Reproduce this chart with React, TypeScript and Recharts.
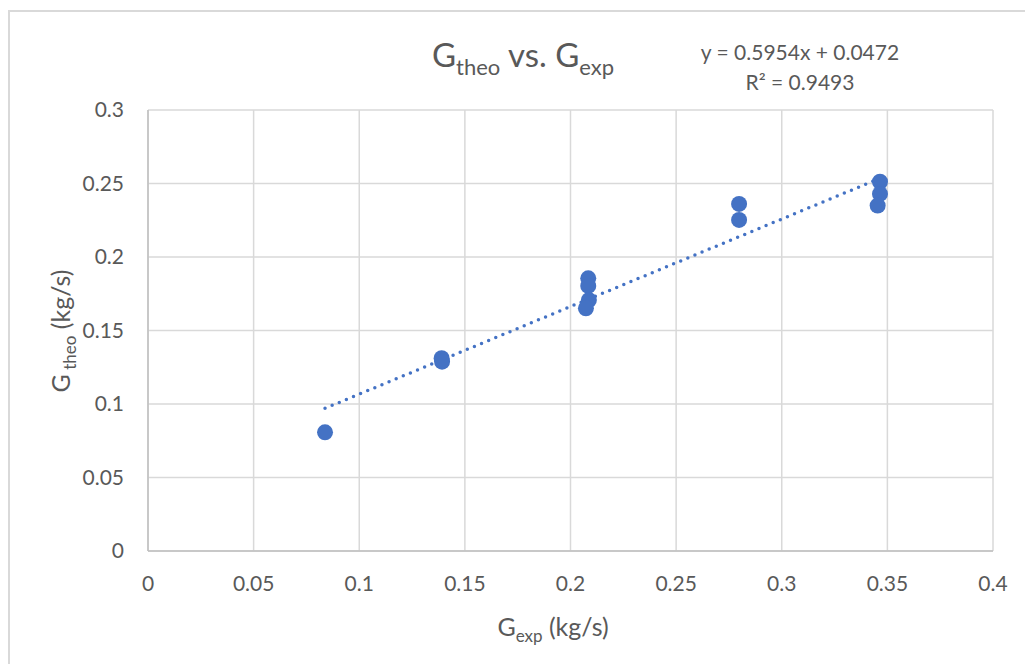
import { ScatterChart, Scatter, XAxis, YAxis, CartesianGrid } from "recharts"

const gExp = [0.0838, 0.139, 0.1392, 0.2084, 0.2084, 0.2087, 0.2073, 0.2798, 0.2798, 0.3465, 0.3465, 0.3454]
const gTheo = [0.0807, 0.1312, 0.1288, 0.1855, 0.1803, 0.1707, 0.1651, 0.2361, 0.2252, 0.2512, 0.2429, 0.235]
const xTicks = [0, 0.05, 0.1, 0.15, 0.2, 0.25, 0.3, 0.35, 0.4]
const yTicks = [0, 0.05, 0.1, 0.15, 0.2, 0.25, 0.3]
const slope = 0.5954
const intercept = 0.0472

const BLUE = "#4472C4"
const TEXT = "#595959"
const FONT = "Lato, sans-serif"

export default function App() {
  const points = gExp.map((x, i) => ({ x, y: gTheo[i] }))
  const xMin = Math.min(...gExp)
  const xMax = Math.max(...gExp)
  // linear trendline from the fitted equation
  const trend = [
    { x: xMin, y: slope * xMin + intercept },
    { x: xMax, y: slope * xMax + intercept },
  ]

  return (
    <div style={{ position: "absolute", left: 0, top: 0, width: 1025, height: 664, background: "#fff", overflow: "hidden", fontFamily: FONT }}>
      <div style={{ position: "absolute", left: 8, top: 10, width: 1100, height: 700, borderLeft: "2px solid #d9d9d9", borderTop: "2px solid #d9d9d9" }} />

      <ScatterChart width={1025} height={664} margin={{ top: 110, right: 32, bottom: 73, left: 88 }}>
        <CartesianGrid stroke="#d9d9d9" strokeWidth={1.5} />
        <XAxis
          type="number"
          dataKey="x"
          domain={[0, 0.4]}
          ticks={xTicks}
          height={40}
          tickLine={false}
          tickMargin={19}
          stroke="#bfbfbf"
          strokeWidth={1.5}
          tick={{ fill: TEXT, fontSize: 21, fontFamily: FONT }}
        />
        <YAxis
          type="number"
          dataKey="y"
          domain={[0, 0.3]}
          ticks={yTicks}
          width={60}
          tickLine={false}
          tickMargin={18}
          stroke="#bfbfbf"
          strokeWidth={1.5}
          tick={{ fill: TEXT, fontSize: 21, fontFamily: FONT }}
        />
        <Scatter
          data={trend}
          isAnimationActive={false}
          line={{ stroke: BLUE, strokeWidth: 3.5, strokeDasharray: "0 7.7", strokeLinecap: "round" }}
          shape={() => <g />}
        />
        <Scatter
          data={points}
          isAnimationActive={false}
          shape={(p: any) => <circle cx={p.cx} cy={p.cy} r={8} fill={BLUE} />}
        />
      </ScatterChart>

      <div style={{ position: "absolute", left: 523, top: 57, transform: "translate(-50%, -50%)", color: TEXT, fontSize: 33, whiteSpace: "nowrap" }}>
        G<sub style={{ fontSize: 22 }}>theo</sub> vs. G<sub style={{ fontSize: 22 }}>exp</sub>
      </div>
      <div style={{ position: "absolute", left: 800, top: 67, transform: "translate(-50%, -50%)", color: TEXT, fontSize: 21, lineHeight: "30px", textAlign: "center", whiteSpace: "nowrap" }}>
        <div>y = 0.5954x + 0.0472</div>
        <div>R² = 0.9493</div>
      </div>
      <div style={{ position: "absolute", left: 62, top: 331, transform: "translate(-50%, -50%) rotate(-90deg)", color: TEXT, fontSize: 25, whiteSpace: "nowrap" }}>
        G<sub style={{ fontSize: 17 }}> theo</sub> (kg/s)
      </div>
      <div style={{ position: "absolute", left: 553, top: 628, transform: "translate(-50%, -50%)", color: TEXT, fontSize: 25, whiteSpace: "nowrap" }}>
        G<sub style={{ fontSize: 17 }}>exp</sub> (kg/s)
      </div>
    </div>
  )
}
